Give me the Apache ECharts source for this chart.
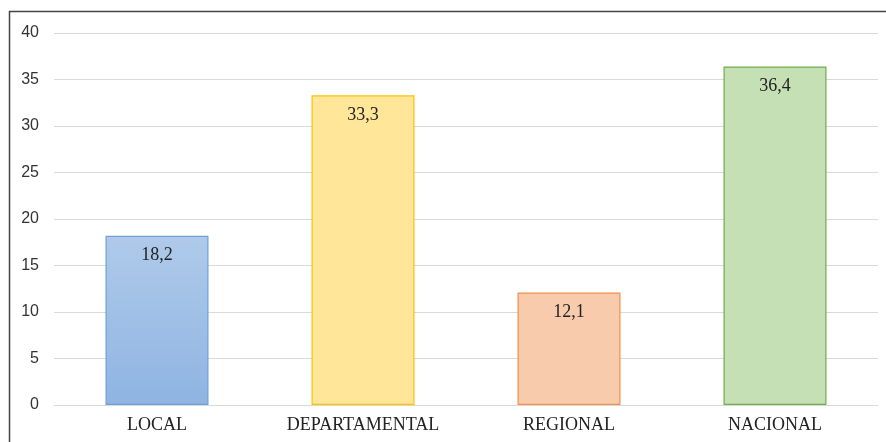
<!DOCTYPE html>
<html><head><meta charset="utf-8">
<script src="https://cdn.jsdelivr.net/npm/echarts@6/dist/echarts.min.js"></script>
<style>html,body{margin:0;padding:0;background:#fff}#c{width:886px;height:442px}</style>
</head><body><div id="c"></div>
<script>
const categories = ['LOCAL', 'DEPARTAMENTAL', 'REGIONAL', 'NACIONAL'];
const values = [18.2, 33.3, 12.1, 36.4];
const valueLabels = ['18,2', '33,3', '12,1', '36,4'];
const yTicks = [0, 5, 10, 15, 20, 25, 30, 35, 40];

const fills = [
  {type:'linear',x:0,y:0,x2:0,y2:1,colorStops:[{offset:0,color:'#afcaea'},{offset:1,color:'#8fb4e2'}]},
  '#ffe699', '#f8cbad', '#c5e0b4'
];
const borders = ['#6e9fd6', '#ffc000', '#f0904c', '#70ad47'];

const chart = echarts.init(document.getElementById('c'));
chart.setOption({
  animation: false,
  graphic: [{type:'rect', shape:{x:9.5,y:11.5,width:900,height:460}, style:{fill:'none',stroke:'#444',lineWidth:1.5}, z:-1}],
  grid: {left: 54, right: 8, top: 33, bottom: 37},
  xAxis: {
    type: 'category', data: categories,
    axisLine: {show: true, lineStyle: {color: '#d9d9d9'}},
    axisTick: {show: false},
    axisLabel: {fontFamily: 'Liberation Serif', fontSize: 18, color: '#222', margin: 11}
  },
  yAxis: {
    type: 'value', min: yTicks[0], max: yTicks[yTicks.length-1], interval: 5,
    axisLine: {show: false}, axisTick: {show: false},
    splitLine: {lineStyle: {color: '#d9d9d9'}},
    axisLabel: {fontFamily: 'Liberation Sans', fontSize: 16, color: '#333', margin: 15}
  },
  series: [{
    type: 'bar', barWidth: '50%',
    data: values.map((v, i) => ({
      value: v,
      itemStyle: {color: fills[i], borderColor: borders[i], borderWidth: 1.2},
      label: {formatter: valueLabels[i]}
    })),
    label: {show: true, position: 'insideTop', distance: 11, fontFamily: 'Liberation Serif', fontSize: 18, color: '#222'}
  }]
});
</script></body></html>
